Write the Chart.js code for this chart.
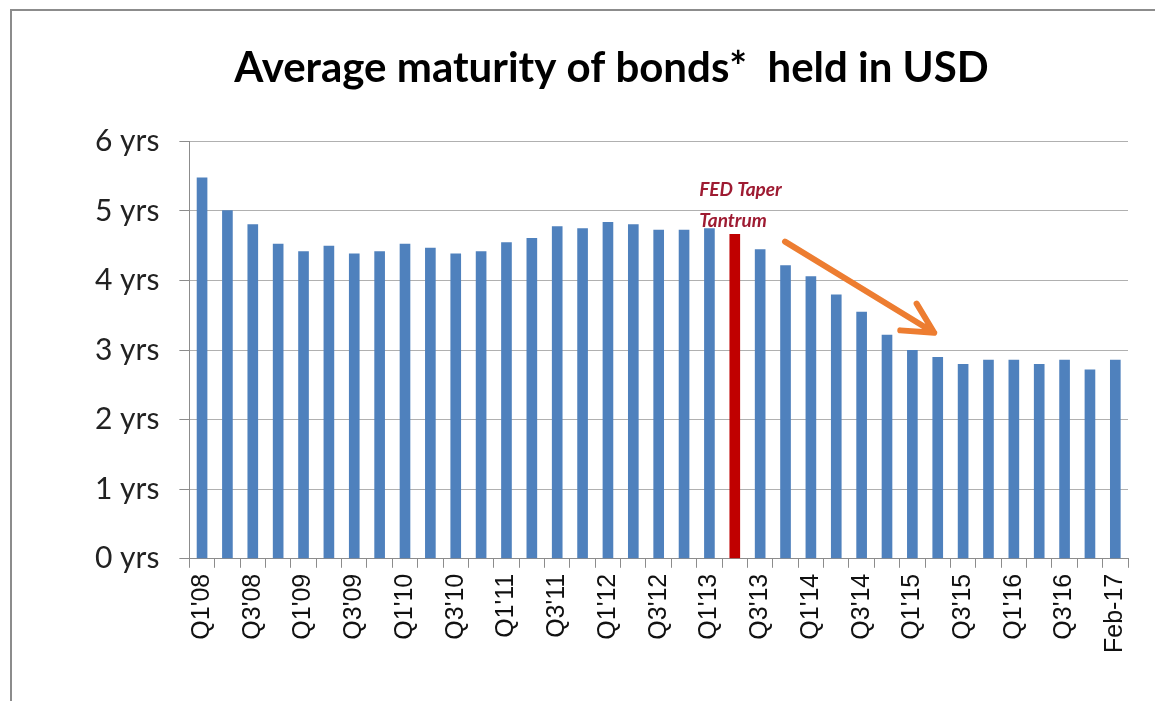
<!DOCTYPE html>
<html>
<head>
<meta charset="utf-8">
<script src="https://cdn.jsdelivr.net/npm/chart.js@4.4.1/dist/chart.umd.min.js"></script>
<style>
  html, body { margin: 0; padding: 0; background: #fff; overflow: hidden; }
  #frame {
    position: absolute; left: 10px; top: 9px;
    width: 1216px; height: 692px;
    border-top: 2px solid #8c8c8c; border-left: 2px solid #8c8c8c;
  }
</style>
</head>
<body>
<div id="frame"><canvas id="myChart"></canvas></div>
<script>
// quarters Q1'08 .. Q4'16, then Feb-17
const labels = [
  "Q1'08", "Q2'08", "Q3'08", "Q4'08",
  "Q1'09", "Q2'09", "Q3'09", "Q4'09",
  "Q1'10", "Q2'10", "Q3'10", "Q4'10",
  "Q1'11", "Q2'11", "Q3'11", "Q4'11",
  "Q1'12", "Q2'12", "Q3'12", "Q4'12",
  "Q1'13", "Q2'13", "Q3'13", "Q4'13",
  "Q1'14", "Q2'14", "Q3'14", "Q4'14",
  "Q1'15", "Q2'15", "Q3'15", "Q4'15",
  "Q1'16", "Q2'16", "Q3'16", "Q4'16",
  "Feb-17"
];

// average maturity in years
const maturity = [
  5.48, 5.01, 4.81, 4.53,
  4.42, 4.50, 4.39, 4.42,
  4.53, 4.47, 4.39, 4.42,
  4.55, 4.61, 4.78, 4.75,
  4.84, 4.81, 4.73, 4.73,
  4.75, 4.67, 4.45, 4.22,
  4.06, 3.80, 3.55, 3.22,
  3.00, 2.90, 2.80, 2.86,
  2.86, 2.80, 2.86, 2.72,
  2.86
];

const taperIndex = 21; // Q2'13
const yTicks = [0, 1, 2, 3, 4, 5, 6];

// note text and arrow, in category index / years
const noteLines = ['FED Taper', 'Tantrum'];
const noteAt = { x: 19.6, y: [5.31, 4.86] };
const arrowFrom = { x: 22.98, y: 4.56 };
const arrowTo = { x: 28.86, y: 3.25 };

const barColors = maturity.map((v, i) => i === taperIndex ? '#c00000' : '#4f81bd');

// draws the annotation text and the orange arrow
const taperNote = {
  id: 'taperNote',
  afterDatasetsDraw(chart) {
    const ctx = chart.ctx;
    const xs = chart.scales.x, ys = chart.scales.y;
    ctx.save();
    ctx.font = 'italic bold 19px Lato';
    ctx.fillStyle = '#9e1b32';
    ctx.textAlign = 'left';
    ctx.textBaseline = 'middle';
    noteLines.forEach((t, i) => {
      ctx.fillText(t, xs.getPixelForValue(noteAt.x), ys.getPixelForValue(noteAt.y[i]));
    });

    const x1 = xs.getPixelForValue(arrowFrom.x), y1 = ys.getPixelForValue(arrowFrom.y);
    const x2 = xs.getPixelForValue(arrowTo.x), y2 = ys.getPixelForValue(arrowTo.y);
    const ang = Math.atan2(y2 - y1, x2 - x1);
    const head = 34, spread = 0.48;
    ctx.strokeStyle = '#ed7d31';
    ctx.lineWidth = 6;
    ctx.lineCap = 'round';
    ctx.lineJoin = 'round';
    ctx.beginPath();
    ctx.moveTo(x1, y1);
    ctx.lineTo(x2, y2);
    ctx.moveTo(x2 - head * Math.cos(ang - spread), y2 - head * Math.sin(ang - spread));
    ctx.lineTo(x2, y2);
    ctx.lineTo(x2 - head * Math.cos(ang + spread), y2 - head * Math.sin(ang + spread));
    ctx.stroke();
    ctx.restore();
  }
};

const ctx = document.getElementById('myChart').getContext('2d');
const myChart = new Chart(ctx, {
  type: 'bar',
  data: {
    labels: labels,
    datasets: [{
      label: 'Average maturity',
      data: maturity,
      backgroundColor: barColors,
      borderWidth: 0,
      barPercentage: 0.42,
      categoryPercentage: 1.0
    }]
  },
  options: {
    responsive: true,
    maintainAspectRatio: false,
    animation: false,
    layout: {
      padding: { left: 83, right: 100, top: 0, bottom: 44 }
    },
    scales: {
      x: {
        grid: {
          display: true,
          drawOnChartArea: false,
          drawTicks: true,
          tickLength: 9,
          color: '#8c8c8c',
          offset: true
        },
        border: { color: '#8c8c8c', width: 1 },
        ticks: {
          autoSkip: false,
          minRotation: 90,
          maxRotation: 90,
          padding: 6,
          color: '#111',
          font: { family: 'Liberation Sans', size: 25 },
          callback: (val, i) => i % 2 === 0 ? labels[i] : ''
        }
      },
      y: {
        min: 0,
        max: 6,
        afterBuildTicks: (scale) => { scale.ticks = yTicks.map(v => ({ value: v })); },
        afterFit: (scale) => { scale.width -= 20; },
        grid: {
          color: '#b0b0b0',
          tickLength: 10,
          tickColor: '#8c8c8c'
        },
        border: { color: '#8c8c8c', width: 1 },
        ticks: {
          padding: 20,
          color: '#222',
          font: { family: 'Lato', size: 30 },
          callback: (v) => v + ' yrs'
        }
      }
    },
    plugins: {
      legend: { display: false },
      tooltip: { enabled: false },
      title: {
        display: true,
        text: 'Average maturity of bonds*  held in USD',
        color: '#000',
        font: { family: 'Lato', size: 42, weight: 'bold' },
        padding: { top: 32, bottom: 48 }
      }
    }
  },
  plugins: [taperNote]
});
</script>
</body>
</html>
